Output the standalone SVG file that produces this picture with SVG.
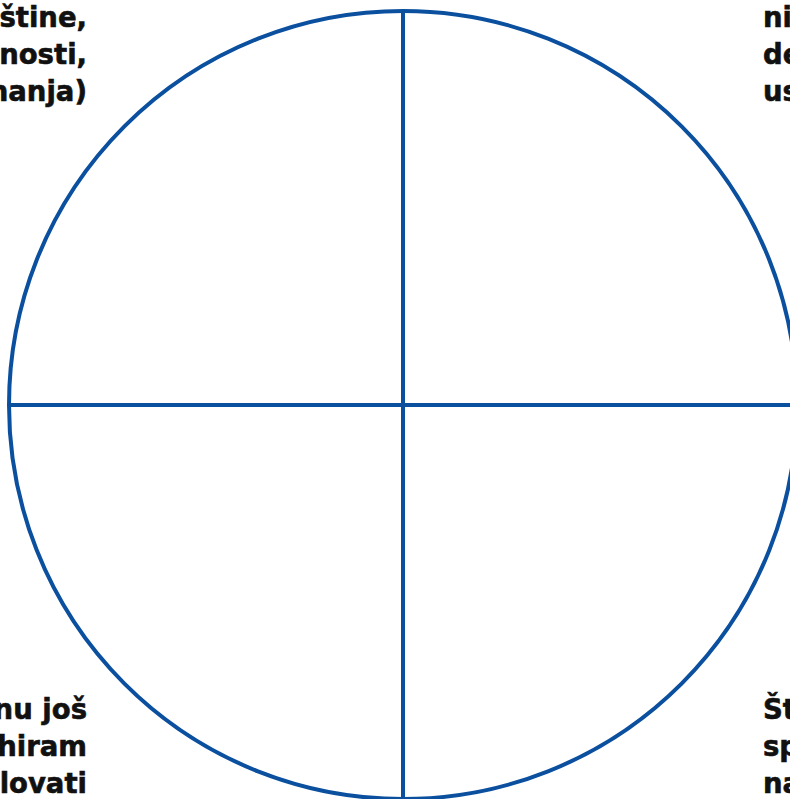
<svg xmlns="http://www.w3.org/2000/svg" width="790" height="799" viewBox="0 0 790 799">
<style>
.l{fill:none;stroke:#0b4f9f;stroke-width:4}
.t{font-family:"DejaVu Sans","Open Sans",sans-serif;font-weight:bold;font-size:27.5px;fill:#111;stroke:#111;stroke-width:0.6}
.e{text-anchor:end}
</style>
<rect width="790" height="799" fill="#fff"/>
<g id="connectors">
<circle class="l" cx="403" cy="405" r="394"/>
<line class="l" x1="403" y1="11" x2="403" y2="799"/>
<line class="l" x1="9" y1="405" x2="797" y2="405"/>
</g>
<g id="top-left" class="t e">
<text x="87" y="27">štine,</text>
<text x="87" y="64">nosti,</text>
<text x="87" y="101">nanja)</text>
</g>
<g id="top-right" class="t">
<text x="763" y="27">ni</text>
<text x="763" y="64">de</text>
<text x="763" y="101">us</text>
</g>
<g id="bottom-left" class="t e">
<text x="87" y="719">nu još</text>
<text x="87" y="756">hiram</text>
<text x="87" y="793">lovati</text>
</g>
<g id="bottom-right" class="t">
<text x="763" y="719">Št</text>
<text x="763" y="756">sp</text>
<text x="763" y="793">na</text>
</g>
</svg>
